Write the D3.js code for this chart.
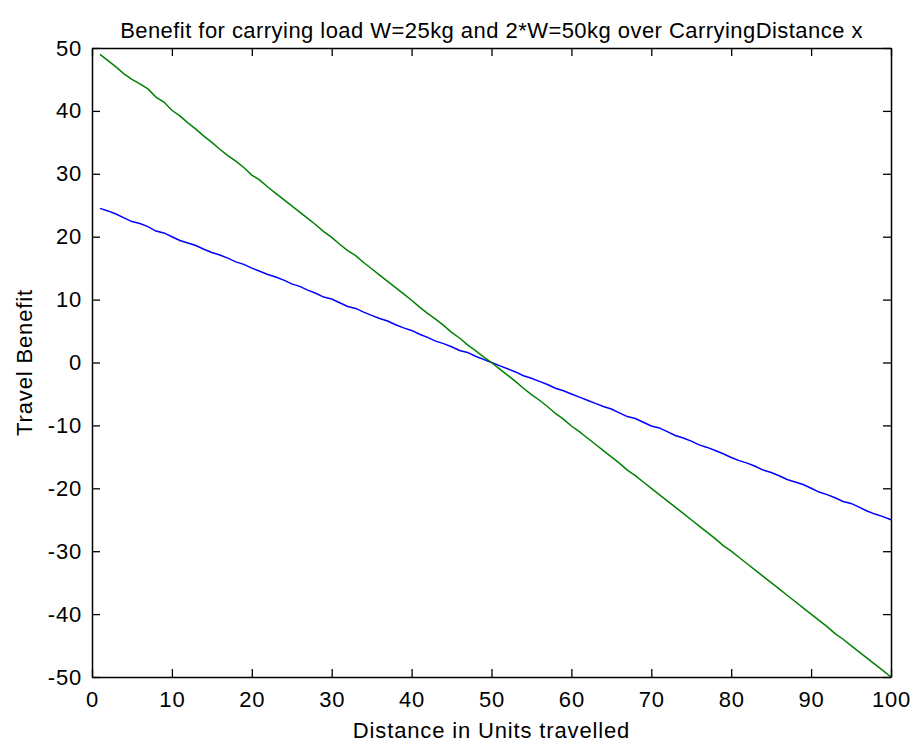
<!DOCTYPE html>
<html lang="en">
<head>
    <meta charset="UTF-8">
    <title>Travel Benefit</title>
    <script src="https://d3js.org/d3.v7.min.js"></script>
    <style>
        body { margin: 0; background: #fff; }
        text { font-family: "Liberation Sans", Arial, sans-serif; fill: #000; }
        .line { fill: none; stroke-width: 1.5px; }
    </style>
</head>
<body>
<script>
    // distance x = 1..100
    const distance = [
        1,2,3,4,5,6,7,8,9,10,11,12,13,14,15,16,17,18,19,20,
        21,22,23,24,25,26,27,28,29,30,31,32,33,34,35,36,37,38,39,40,
        41,42,43,44,45,46,47,48,49,50,51,52,53,54,55,56,57,58,59,60,
        61,62,63,64,65,66,67,68,69,70,71,72,73,74,75,76,77,78,79,80,
        81,82,83,84,85,86,87,88,89,90,91,92,93,94,95,96,97,98,99,100
    ];
    // load W = 25kg
    const benefitW = [
        24.5,24.1,23.6,23.0,22.4,22.1,21.6,20.9,20.6,20.0,19.4,19.0,18.6,18.0,17.5,17.1,16.6,16.0,15.6,15.0,
        14.5,14.0,13.6,13.1,12.5,12.1,11.5,11.0,10.4,10.1,9.5,8.9,8.6,8.0,7.5,7.0,6.6,6.0,5.5,5.1,
        4.5,4.0,3.4,3.0,2.5,1.9,1.6,1.0,0.5,0.0,-0.5,-1.0,-1.5,-2.1,-2.5,-3.0,-3.5,-4.1,-4.5,-5.0,
        -5.5,-6.0,-6.5,-7.0,-7.4,-8.0,-8.6,-8.9,-9.5,-10.1,-10.4,-11.0,-11.6,-12.0,-12.5,-13.1,-13.5,-14.0,-14.5,-15.1,
        -15.6,-16.0,-16.5,-17.1,-17.5,-18.0,-18.6,-19.0,-19.4,-20.0,-20.6,-21.0,-21.5,-22.1,-22.4,-23.0,-23.6,-24.1,-24.5,-25.0
    ];
    // load 2*W = 50kg
    const benefit2W = [
        49.0,48.0,47.0,45.9,45.0,44.3,43.5,42.2,41.4,40.1,39.2,38.1,37.1,36.0,35.0,33.9,32.9,32.0,31.0,29.8,
        29.0,27.9,26.9,25.9,24.9,23.9,22.9,21.9,20.8,19.9,18.8,17.8,17.0,15.9,14.9,13.9,12.9,11.9,10.9,9.9,
        8.8,7.8,6.9,5.9,4.8,3.9,2.8,1.9,0.9,0.0,-1.0,-2.0,-3.0,-4.1,-5.1,-6.0,-7.0,-8.1,-9.0,-10.1,
        -11.0,-12.0,-13.0,-14.0,-15.0,-16.0,-17.1,-18.0,-19.0,-20.0,-21.0,-22.0,-23.0,-24.0,-25.0,-26.0,-27.0,-28.0,-29.1,-30.0,
        -31.0,-32.0,-33.0,-34.0,-35.0,-36.0,-37.0,-38.0,-39.0,-40.0,-41.0,-42.0,-43.1,-44.0,-45.0,-46.0,-47.0,-48.0,-49.0,-50.0
    ];
    const xTicks = [0, 10, 20, 30, 40, 50, 60, 70, 80, 90, 100];
    const yTicks = [-50, -40, -30, -20, -10, 0, 10, 20, 30, 40, 50];

    const width = 912, height = 742;
    const plotLeft = 92, plotRight = 891, plotTop = 48, plotBottom = 677;
    const tickLen = 8;
    const fontSize = 22;

    const svg = d3.select('body').append('svg')
        .attr('width', width)
        .attr('height', height);

    const x = d3.scaleLinear().domain([0, 100]).range([plotLeft, plotRight]);
    const y = d3.scaleLinear().domain([-50, 50]).range([plotBottom, plotTop]);

    // lines
    const line = d3.line()
        .x((d, i) => x(distance[i]))
        .y(d => y(d));

    svg.append('path')
        .attr('class', 'line')
        .attr('stroke', '#0000ff')
        .attr('d', line(benefitW));

    svg.append('path')
        .attr('class', 'line')
        .attr('stroke', '#008000')
        .attr('d', line(benefit2W));

    // axes, ticks inside on all four sides; plain hyphen for negatives
    const fmt = d => String(d);
    const bottomAxis = d3.axisBottom(x).tickValues(xTicks).tickFormat(fmt).tickSizeInner(-tickLen).tickSizeOuter(0).tickPadding(14);
    const topAxis = d3.axisTop(x).tickValues(xTicks).tickSizeInner(-tickLen).tickSizeOuter(0).tickFormat('');
    const leftAxis = d3.axisLeft(y).tickValues(yTicks).tickFormat(fmt).tickSizeInner(-tickLen).tickSizeOuter(0).tickPadding(10);
    const rightAxis = d3.axisRight(y).tickValues(yTicks).tickSizeInner(-tickLen).tickSizeOuter(0).tickFormat('');

    const axes = [
        svg.append('g').attr('transform', `translate(0,${plotBottom})`).call(bottomAxis),
        svg.append('g').attr('transform', `translate(0,${plotTop})`).call(topAxis),
        svg.append('g').attr('transform', `translate(${plotLeft},0)`).call(leftAxis),
        svg.append('g').attr('transform', `translate(${plotRight},0)`).call(rightAxis)
    ];
    axes.forEach(g => {
        g.selectAll('.domain').attr('stroke', '#000').attr('stroke-width', 1.5);
        g.selectAll('.tick line').attr('stroke', '#000').attr('stroke-width', 1.3);
        g.selectAll('.tick text')
            .style('font-family', '"Liberation Sans", Arial, sans-serif')
            .style('font-size', fontSize + 'px')
            .style('letter-spacing', '0.8px')
            .attr('fill', '#000');
    });

    // title and labels
    svg.append('text')
        .attr('x', (plotLeft + plotRight) / 2)
        .attr('y', 38)
        .attr('text-anchor', 'middle')
        .style('font-size', '22px')
        .style('letter-spacing', '0.45px')
        .text('Benefit for carrying load W=25kg and 2*W=50kg over CarryingDistance x');

    svg.append('text')
        .attr('x', (plotLeft + plotRight) / 2)
        .attr('y', 738)
        .attr('text-anchor', 'middle')
        .style('font-size', fontSize + 'px')
        .style('letter-spacing', '0.85px')
        .text('Distance in Units travelled');

    svg.append('text')
        .attr('transform', `translate(32,${(plotTop + plotBottom) / 2}) rotate(-90)`)
        .attr('text-anchor', 'middle')
        .style('font-size', fontSize + 'px')
        .style('letter-spacing', '0.85px')
        .text('Travel Benefit');
</script>
</body>
</html>
